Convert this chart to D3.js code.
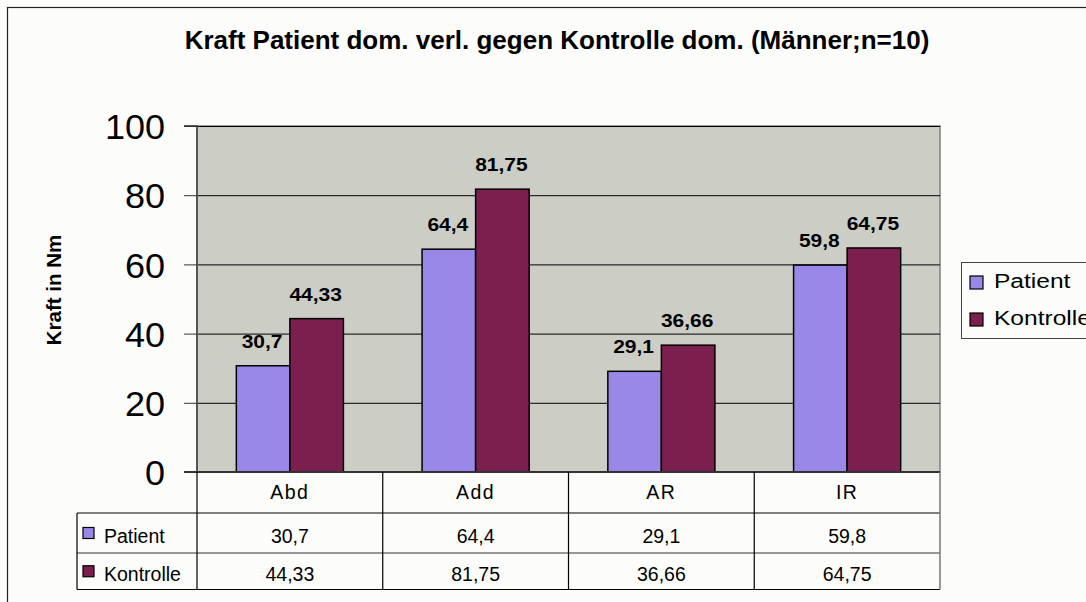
<!DOCTYPE html>
<html><head><meta charset="utf-8">
<script src="https://cdn.jsdelivr.net/npm/d3@7"></script>
<style>
html,body{margin:0;padding:0;background:#fcfcfa;}
text{font-family:"Liberation Sans",Arial,sans-serif;}
</style></head>
<body>
<svg id="chart" width="1086" height="602"></svg>
<script>
const categories = ["Abd", "Add", "AR", "IR"];
const seriesNames = ["Patient", "Kontrolle"];
const patient = [30.7, 64.4, 29.1, 59.8];
const kontrolle = [44.33, 81.75, 36.66, 64.75];
const patientLabels = ["30,7", "64,4", "29,1", "59,8"];
const kontrolleLabels = ["44,33", "81,75", "36,66", "64,75"];
const yTicks = [0, 20, 40, 60, 80, 100];
const colors = ["#9988e8", "#7b1f4e"];

// horizontal stretch about the text anchor point
function stretch(sel, f){
  sel.each(function(){
    const t = d3.select(this);
    const x0 = +t.attr("x") || 0, y0 = +t.attr("y") || 0;
    t.attr("transform", `translate(${x0},${y0}) scale(${f},1) translate(${-x0},${-y0})`);
  });
}

const svg = d3.select("#chart");
const W = 1086, H = 602;
svg.append("rect").attr("x",0).attr("y",0).attr("width",W).attr("height",H).attr("fill","#fcfcfa");
svg.append("rect").attr("x",7.5).attr("y",7.5).attr("width",1200).attr("height",700)
  .attr("fill","#fcfcfa").attr("stroke","#222").attr("stroke-width",1.2);

const plot = {l:197, r:940, t:126, b:472};
const x = d3.scaleBand().domain(categories).range([plot.l, plot.r]).paddingInner(0).paddingOuter(0);
const y = d3.scaleLinear().domain([0,100]).range([plot.b, plot.t]);
const xs = d3.scaleBand().domain(seriesNames).range([0, x.bandwidth()]).paddingInner(0).paddingOuter(0.7347);

// title
svg.append("text").attr("x",557).attr("y",49).attr("text-anchor","middle")
  .attr("font-size",26).attr("font-weight","bold").attr("fill","#000")
  .text("Kraft Patient dom. verl. gegen Kontrolle dom. (Männer;n=10)");

// plot background
svg.append("rect").attr("x",plot.l).attr("y",plot.t).attr("width",plot.r-plot.l).attr("height",plot.b-plot.t)
  .attr("fill","#cccec6").attr("stroke","#808080").attr("stroke-width",1.5);

// gridlines
svg.append("g").selectAll("line").data(yTicks.filter(d=>d>0)).join("line")
  .attr("x1",plot.l).attr("x2",plot.r).attr("y1",d=>y(d)+0.5).attr("y2",d=>y(d)+0.5)
  .attr("stroke","#000").attr("stroke-width",1);

// y axis
const yAxis = d3.axisLeft(y).tickValues(yTicks).tickSize(13).tickPadding(19).tickFormat(d3.format("d"));
const ga = svg.append("g").attr("transform",`translate(${plot.l},0)`).call(yAxis);
ga.select(".domain").attr("stroke","#555").attr("stroke-width",2).attr("d",`M-13,${plot.t}H0V${plot.b}H-13`);
ga.selectAll(".tick line").attr("stroke","#333");
ga.selectAll(".tick text").attr("font-size",35).attr("fill","#000").attr("dy","0.36em")
  .attr("font-family","Liberation Sans, Arial, sans-serif");
stretch(ga.selectAll(".tick text"), 1.03);

// y title
svg.append("text").attr("transform","translate(61,290) rotate(-90)").attr("text-anchor","middle")
  .attr("font-size",20.5).attr("font-weight","bold").text("Kraft in Nm");

// bars
const data = categories.map((c,i)=>({c, vals:[patient[i], kontrolle[i]], labels:[patientLabels[i], kontrolleLabels[i]]}));
const groups = svg.append("g").selectAll("g").data(data).join("g")
  .attr("transform",d=>`translate(${x(d.c)},0)`);
groups.selectAll("rect").data(d=>d.vals.map((v,j)=>({v,s:seriesNames[j],j}))).join("rect")
  .attr("x",d=>xs(d.s)).attr("width",xs.bandwidth())
  .attr("y",d=>y(d.v)).attr("height",d=>y(0)-y(d.v))
  .attr("fill",d=>colors[d.j]).attr("stroke","#000").attr("stroke-width",1.5);
const lbl = groups.selectAll("text").data(d=>d.vals.map((v,j)=>({v,s:seriesNames[j],l:d.labels[j]}))).join("text")
  .attr("x",d=>xs(d.s)+xs.bandwidth()/2-1).attr("y",d=>y(d.v)-18)
  .attr("text-anchor","middle").attr("font-size",17.5).attr("font-weight","bold").text(d=>d.l);
stretch(lbl, 1.2);

// axis baseline
svg.append("line").attr("x1",plot.l-13).attr("x2",plot.r).attr("y1",plot.b).attr("y2",plot.b)
  .attr("stroke","#333").attr("stroke-width",2);

// data table
const rowB = [plot.b, 513, 553, 589.5];
const baselines = [499, 542.5, 580.5];
const tableLeft = 77;
const tg = svg.append("g");
tg.append("line").attr("x1",tableLeft).attr("x2",plot.r).attr("y1",rowB[1]).attr("y2",rowB[1]).attr("stroke","#000").attr("stroke-width",1.2);
tg.append("line").attr("x1",tableLeft).attr("x2",plot.r).attr("y1",rowB[2]).attr("y2",rowB[2]).attr("stroke","#777").attr("stroke-width",1.5);
tg.append("line").attr("x1",tableLeft).attr("x2",plot.r).attr("y1",rowB[3]).attr("y2",rowB[3]).attr("stroke","#000").attr("stroke-width",1.2);
const vx = categories.map(c=>x(c)).concat([plot.r]);
tg.selectAll("line.v").data(vx).join("line").attr("class","v")
  .attr("x1",d=>d).attr("x2",d=>d).attr("y1",plot.b).attr("y2",rowB[3])
  .attr("stroke",(d,i)=>i===vx.length-1?"#777":"#000").attr("stroke-width",(d,i)=>i===vx.length-1?1.5:1.2);
tg.append("line").attr("x1",tableLeft).attr("x2",tableLeft).attr("y1",rowB[1]).attr("y2",rowB[3]).attr("stroke","#000").attr("stroke-width",1.2);
tg.selectAll("text.cat").data(categories).join("text").attr("class","cat")
  .attr("x",d=>x(d)+x.bandwidth()/2).attr("y",baselines[0])
  .attr("text-anchor","middle").attr("font-size",19.5).attr("letter-spacing",1.5).text(d=>d);
const rows = [patientLabels, kontrolleLabels];
rows.forEach((vals,r)=>{
  const cy = (rowB[r+1]+rowB[r+2])/2;
  tg.append("rect").attr("x",83).attr("y",cy-5.5).attr("width",11).attr("height",11)
    .attr("fill",colors[r]).attr("stroke","#000").attr("stroke-width",1.2);
  tg.append("text").attr("x",104).attr("y",baselines[r+1]).attr("font-size",19.5).text(seriesNames[r]);
  tg.selectAll(null).data(vals).join("text")
    .attr("x",(d,i)=>x(categories[i])+x.bandwidth()/2).attr("y",baselines[r+1])
    .attr("text-anchor","middle").attr("font-size",19.5).text(d=>d);
});

// legend (extends past the right edge, as in the reference)
const lg = svg.append("g");
lg.append("rect").attr("x",961.5).attr("y",262.5).attr("width",200).attr("height",76)
  .attr("fill","#fcfcfa").attr("stroke","#444").attr("stroke-width",1);
seriesNames.forEach((s,i)=>{
  const cy = 282.5 + i*37;
  lg.append("rect").attr("x",970).attr("y",cy-6.5).attr("width",13).attr("height",13)
    .attr("fill",colors[i]).attr("stroke","#000").attr("stroke-width",1.2);
  const t = lg.append("text").attr("x",994).attr("y",cy+6).attr("font-size",21).text(s);
  stretch(t, 1.17);
});
</script>
</body></html>
